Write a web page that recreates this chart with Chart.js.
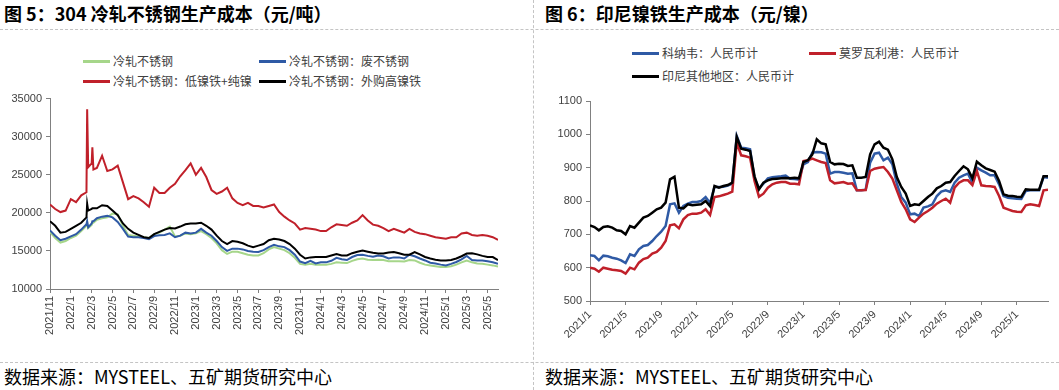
<!DOCTYPE html>
<html>
<head>
<meta charset="utf-8">
<script src="https://cdn.jsdelivr.net/npm/chart.js@4.4.1/dist/chart.umd.min.js"></script>
<style>
body{margin:0;width:1059px;height:390px;position:relative;overflow:hidden;background:#fff;font-family:"Noto Sans CJK SC",sans-serif;}
.title{position:absolute;top:2px;font-size:18px;font-weight:bold;line-height:22px;color:#000;white-space:nowrap;}
.src{position:absolute;top:365px;font-size:18px;line-height:22px;color:#000;white-space:nowrap;}
.hd{position:absolute;left:0;width:1059px;height:0;border-top:1px dashed #c4c4c4;}
.vd{position:absolute;left:533px;top:0;width:0;height:390px;border-left:1px dashed #c4c4c4;}
.lg{position:absolute;font-size:12px;line-height:16px;color:#404040;white-space:nowrap;display:flex;align-items:center;}
.lg i{display:inline-block;width:27px;height:3px;margin-right:3px;}
canvas{position:absolute;top:88px;}
</style>
</head>
<body>
<div class="title" style="left:4px">图 5：304 冷轧不锈钢生产成本（元/吨）</div>
<div class="title" style="left:545px">图 6：印尼镍铁生产成本（元/镍）</div>
<div class="hd" style="top:29px"></div>
<div class="hd" style="top:362px"></div>
<div class="vd"></div>

<div class="lg" style="left:83px;top:53px"><i style="background:#a6d68a"></i>冷轧不锈钢</div>
<div class="lg" style="left:259px;top:53px"><i style="background:#2f5aa5"></i>冷轧不锈钢：废不锈钢</div>
<div class="lg" style="left:83px;top:73px"><i style="background:#c0202a"></i>冷轧不锈钢：低镍铁+纯镍</div>
<div class="lg" style="left:259px;top:73px"><i style="background:#000"></i>冷轧不锈钢：外购高镍铁</div>

<div class="lg" style="left:632px;top:45px"><i style="background:#2f5aa5"></i>科纳韦：人民币计</div>
<div class="lg" style="left:809px;top:45px"><i style="background:#c0202a"></i>莫罗瓦利港：人民币计</div>
<div class="lg" style="left:632px;top:68px"><i style="background:#000"></i>印尼其他地区：人民币计</div>

<canvas id="left" width="530" height="272" style="left:0"></canvas>
<canvas id="right" width="529" height="272" style="left:530px"></canvas>

<div class="src" style="left:4px">数据来源：MYSTEEL、五矿期货研究中心</div>
<div class="src" style="left:545px">数据来源：MYSTEEL、五矿期货研究中心</div>

<script>
// 图5：304冷轧不锈钢生产成本（元/吨），半月取值
var leftDates = [
  '2021/11/1','2021/11/16','2021/12/1','2021/12/16',
  '2022/1/1','2022/1/16','2022/2/1','2022/2/16','2022/2/18','2022/2/21','2022/3/1','2022/3/3','2022/3/6','2022/3/16',
  '2022/4/1','2022/4/16','2022/5/1','2022/5/16','2022/6/1','2022/6/16','2022/7/1','2022/7/16','2022/8/1','2022/8/16',
  '2022/9/1','2022/9/16','2022/10/1','2022/10/16','2022/11/1','2022/11/16','2022/12/1','2022/12/16',
  '2023/1/1','2023/1/16','2023/2/1','2023/2/16','2023/3/1','2023/3/16','2023/4/1','2023/4/16','2023/5/1','2023/5/16','2023/6/1','2023/6/16',
  '2023/7/1','2023/7/16','2023/8/1','2023/8/16','2023/9/1','2023/9/16','2023/10/1','2023/10/16','2023/11/1','2023/11/16','2023/12/1','2023/12/16',
  '2024/1/1','2024/1/16','2024/2/1','2024/2/16','2024/3/1','2024/3/16','2024/4/1','2024/4/16','2024/5/1','2024/5/16','2024/6/1','2024/6/16',
  '2024/7/1','2024/7/16','2024/8/1','2024/8/16','2024/9/1','2024/9/16','2024/10/1','2024/10/16','2024/11/1','2024/11/16','2024/12/1','2024/12/16',
  '2025/1/1','2025/1/16','2025/2/1','2025/2/16','2025/3/1','2025/3/16','2025/4/1','2025/4/16','2025/5/1','2025/5/16','2025/6/1'
];
var coldRolled = [17500,16700,16100,16300,16700,17000,17600,18300,18700,18000,18400,18700,18700,
  19100,19300,19400,19900,19800,18300,17100,17000,16900,16800,16700,17200,17400,17800,18200,16900,17000,17300,17200,17300,17600,
  17200,16700,16000,15100,14600,14900,14900,14700,14500,14400,14400,14700,15200,15500,15300,15100,14700,14100,13300,13200,13300,
  13200,13200,13200,13300,13500,13450,13400,13700,13900,14000,13850,13800,13850,13800,13650,13650,13650,13600,13800,13750,13450,
  13200,13100,13000,12900,12900,13000,13200,13500,13750,13500,13350,13300,13200,13100,12950];
var scrapSteel = [17700,17000,16400,16600,16900,17200,17800,18500,18900,18100,18600,18900,18900,
  19300,19500,19600,19400,18800,17900,16900,16800,16800,16700,16550,16950,17050,17100,17300,16800,17000,17400,17300,17400,17900,
  17400,17000,16300,15500,15000,15300,15300,15200,15000,14900,14850,15100,15500,15800,15600,15500,15100,14500,13600,13400,13700,
  13350,13500,13500,13700,14100,13900,13800,14200,14450,14500,14350,14250,14400,14300,14000,14150,14150,14000,14500,14300,14000,
  13750,13450,13350,13200,13100,13300,13550,13900,14350,13800,13750,13750,13650,13500,13300];
var lowNiPure = [21100,20500,20100,20300,21800,21400,22300,22700,33600,26000,26500,28600,25700,
  25900,27500,25500,25700,26200,24000,21800,22200,21900,21400,20800,23300,22600,22600,23300,23800,24800,25600,26500,
  25000,25900,24700,23000,22500,22800,23300,21900,21300,21000,21300,20900,20900,20700,20900,21100,20100,19500,19000,18600,17800,
  18000,17900,17800,17600,17600,18100,18500,18400,18300,18700,19000,19700,19000,18450,18300,18000,17600,17900,17650,17400,17900,
  17500,17300,17200,17000,16800,16700,16600,16800,16800,17300,17400,17100,17000,17100,17000,16800,16450];
var highNiFe = [18900,18300,17400,17500,17900,18300,18700,19400,21200,20300,20500,20600,20600,
  20600,21000,20900,20300,19700,18600,17900,17400,17100,16800,16700,17200,17500,17800,18000,17950,18200,18500,18600,18600,18700,
  18300,17800,17000,16300,15900,16300,16200,16000,15700,15500,15700,15900,16400,16600,16500,16300,15900,15300,14500,14000,14150,
  14200,14200,14200,14400,14600,14400,14400,14700,14900,15050,14900,14750,14650,14650,14800,14850,14700,14500,14500,14850,14550,
  14200,14000,13850,13750,13750,13800,14000,14300,14650,14700,14550,14350,14200,14200,13800];
var leftTickLabels = ['2021/11','2022/1','2022/3','2022/5','2022/7','2022/9','2022/11','2023/1','2023/3','2023/5','2023/7',
  '2023/9','2023/11','2024/1','2024/3','2024/5','2024/7','2024/9','2024/11','2025/1','2025/3','2025/5'];

// 图6：印尼镍铁生产成本（元/镍）
var rightDates = [
  '2021/1/1','2021/1/16','2021/2/1','2021/2/16','2021/3/1','2021/3/16','2021/4/1','2021/4/16','2021/5/1','2021/5/16','2021/6/1','2021/6/16',
  '2021/7/1','2021/7/16','2021/8/1','2021/8/16','2021/9/1','2021/9/16','2021/10/1','2021/10/16','2021/11/1','2021/11/16','2021/12/1','2021/12/16',
  '2022/1/1','2022/1/16','2022/2/1','2022/2/16','2022/3/1','2022/3/16','2022/4/1','2022/4/16','2022/5/1','2022/5/16','2022/6/1','2022/6/16',
  '2022/7/1','2022/7/16','2022/8/1','2022/8/16','2022/9/1','2022/9/16','2022/10/1','2022/10/16','2022/11/1','2022/11/16','2022/12/1','2022/12/16',
  '2023/1/1','2023/1/16','2023/2/1','2023/2/16','2023/3/1','2023/3/16','2023/4/1','2023/4/16','2023/5/1','2023/5/16','2023/6/1','2023/6/16',
  '2023/7/1','2023/7/16','2023/8/1','2023/8/16','2023/9/1','2023/9/16','2023/10/1','2023/10/16','2023/11/1','2023/11/16','2023/12/1','2023/12/16',
  '2024/1/1','2024/1/16','2024/2/1','2024/2/16','2024/3/1','2024/3/16','2024/4/1','2024/4/16','2024/5/1','2024/5/16','2024/6/1','2024/6/16',
  '2024/7/1','2024/7/16','2024/8/1','2024/8/16','2024/9/1','2024/9/16','2024/10/1','2024/10/16','2024/11/1','2024/11/16','2024/12/1','2024/12/16',
  '2025/1/1','2025/1/16','2025/2/1','2025/2/16','2025/3/1','2025/3/16','2025/4/1','2025/4/16'
];
var konawe = [637,635,622,636,634,630,627,622, 614,640,635,655,665,668,680,695,
  708,725,790,793,765,785,792,797, 797,800,812,794,842,842,843,846,
  852,995,960,958,955,868,838,852, 868,871,873,874,876,867,866,864,
  910,917,945,947,946,942,882,887, 887,885,882,883,832,832,834,915,
  942,945,922,930,910,852,812,795, 760,762,755,780,784,790,815,828,
  832,827,855,870,877,882,855,900, 892,885,877,877,850,815,810,808,
  807,806,830,832,832,832,872,870];
var morowali = [600,597,588,600,597,594,592,590, 582,600,595,615,626,630,642,647,
  660,680,727,730,718,745,758,762, 762,765,775,758,812,814,818,822,
  828,975,937,934,930,860,813,822, 840,850,855,857,857,852,852,850,
  920,922,927,922,917,914,862,853, 855,857,852,853,832,832,833,890,
  897,900,902,887,867,832,797,775, 745,737,750,762,770,780,792,800,
  807,795,840,855,862,862,848,890, 847,845,844,842,815,780,775,770,
  768,767,787,790,788,785,832,834];
var otherIndo = [727,722,712,722,724,720,712,710, 700,725,720,735,750,755,765,775,
  780,795,865,873,780,778,790,787, 789,790,800,784,845,840,845,848,
  855,992,957,954,950,874,835,855, 862,866,867,868,869,868,870,868,
  917,922,940,985,973,970,917,910, 912,911,905,907,870,870,872,940,
  970,978,960,954,925,872,842,822, 785,790,788,800,812,822,838,845,
  855,857,875,890,904,895,868,918, 907,898,893,888,860,820,816,815,
  813,812,835,834,834,834,874,874];
var rightTickLabels = ['2021/1','2021/5','2021/9','2022/1','2022/5','2022/9','2023/1','2023/5','2023/9',
  '2024/1','2024/5','2024/9','2025/1'];

// месяц от 2021/1 как число для линейной оси
function monthPos(s) {
  var p = s.split('/').map(Number);
  return (p[0] - 2021) * 12 + (p[1] - 1) + ((p[2] || 1) - 1) / 30;
}
function pts(dates, vals) {
  return dates.map(function (d, i) { return { x: monthPos(d), y: vals[i] }; });
}
function line(data, color, width, order) {
  return { data: data, borderColor: color, borderWidth: width, pointRadius: 0, tension: 0, order: order };
}

Chart.defaults.font.family = '"Liberation Sans", Arial, sans-serif';
Chart.defaults.color = '#404040';

function xAxis(min, max, labels, rot, height) {
  return {
    type: 'linear', min: min, max: max,
    afterBuildTicks: function (s) { s.ticks = labels.map(function (l) { return { value: monthPos(l) }; }); },
    afterFit: function (s) { s.height = height; },
    ticks: { autoSkip: false, minRotation: rot, maxRotation: rot, padding: 3, font: { size: 11 },
      callback: function (v, i) { return labels[i]; } },
    grid: { drawOnChartArea: false, tickLength: 4, color: '#808080' },
    border: { color: '#808080' }
  };
}
function yAxis(min, max, step, width) {
  return {
    min: min, max: max,
    afterFit: function (s) { s.width = width; },
    ticks: { stepSize: step, padding: 4, font: { size: 11 }, callback: function (v) { return String(v); } },
    grid: { drawOnChartArea: false, tickLength: 4, color: '#808080' },
    border: { color: '#808080' }
  };
}

new Chart(document.getElementById('left').getContext('2d'), {
  type: 'line',
  data: {
    datasets: [
      line(pts(leftDates, coldRolled), '#a6d68a', 2, 4),
      line(pts(leftDates, scrapSteel), '#2f5aa5', 2, 3),
      line(pts(leftDates, lowNiPure), '#c0202a', 2, 2),
      line(pts(leftDates, highNiFe), '#000000', 2, 1)
    ]
  },
  options: {
    responsive: false,
    animation: false,
    layout: { padding: { top: 8, right: 32, left: 0, bottom: 0 } },
    plugins: { legend: { display: false }, tooltip: { enabled: false } },
    scales: {
      x: xAxis(10, 53, leftTickLabels, 90, 71),
      y: yAxis(10000, 35000, 5000, 50)
    }
  }
});

new Chart(document.getElementById('right').getContext('2d'), {
  type: 'line',
  data: {
    datasets: [
      line(pts(rightDates, konawe), '#2f5aa5', 2.5, 3),
      line(pts(rightDates, morowali), '#c0202a', 2.5, 2),
      line(pts(rightDates, otherIndo), '#000000', 2.5, 1)
    ]
  },
  options: {
    responsive: false,
    animation: false,
    layout: { padding: { top: 13, right: 11, left: 0, bottom: 0 } },
    plugins: { legend: { display: false }, tooltip: { enabled: false } },
    scales: {
      x: xAxis(0, 51.5, rightTickLabels, 45, 59),
      y: yAxis(500, 1100, 100, 60)
    }
  }
});
</script>
</body>
</html>
